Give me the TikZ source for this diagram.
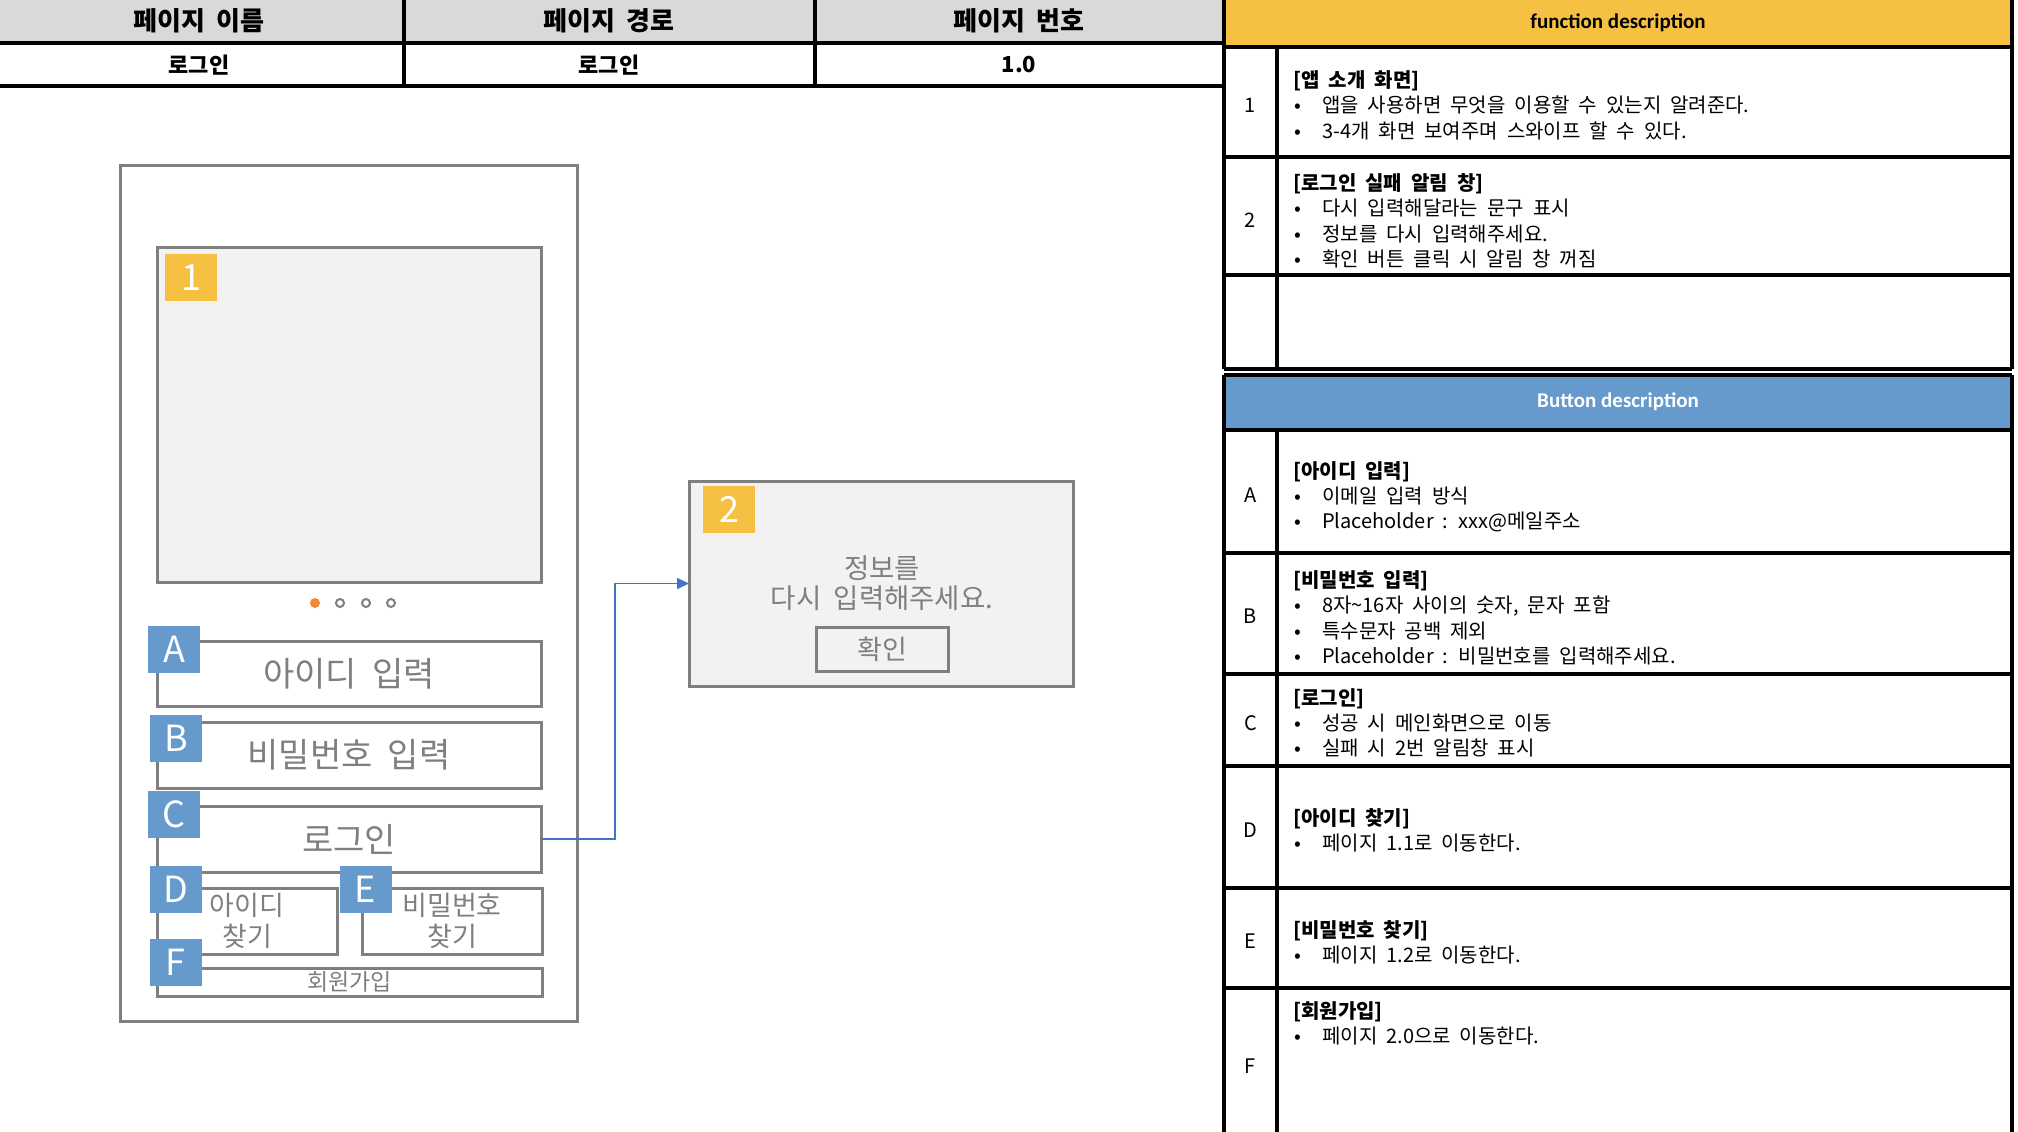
\documentclass[tikz,border=0pt]{standalone}
\usepackage{fontspec}
\setmainfont[WordSpace=2]{Noto Sans CJK KR}
\newfontfamily\hdlatinfont{Carlito}
\usetikzlibrary{arrows.meta}
\definecolor{grayline}{HTML}{7F7F7F}
\definecolor{scrfill}{HTML}{F2F2F2}
\definecolor{byellow}{HTML}{F6C142}
\definecolor{bblue}{HTML}{6699CC}
\definecolor{dotorange}{HTML}{ED8B2F}
\definecolor{connblue}{HTML}{4472C4}
\definecolor{hdrgray}{HTML}{D9D9D9}
\newcommand\myblt{\makebox[29pt][l]{\hspace{1pt}•}}
\begin{document}
\begin{tikzpicture}[x=1pt,y=-1pt,
  tline/.style={draw=black,line width=3.5pt},
  hdtxt/.style={inner sep=0,font=\bfseries\fontsize{26}{28}\selectfont},
  rowtxt/.style={inner sep=0,font=\bfseries\fontsize{22}{24}\selectfont},
  hdlatin/.style={inner sep=0,font=\hdlatinfont\bfseries\fontsize{21}{24}\selectfont},
  desc/.style={anchor=base west,inner sep=0,font=\fontsize{20}{25.6}\selectfont},
  descb/.style={anchor=base west,inner sep=0,font=\bfseries\fontsize{20}{25.6}\selectfont},
  num/.style={anchor=base,inner sep=0,font=\fontsize{20}{24}\selectfont},
  frame/.style={draw=grayline,line width=3pt,inner sep=0,outer sep=0},
  scrbox/.style={frame,fill=scrfill},
  inbox/.style={frame,fill=white,text=grayline},
  badge/.style={inner sep=0,outer sep=0,text=white,minimum width=52,minimum height=47,font=\fontsize{36}{36}\selectfont},
  ybadge/.style={badge,fill=byellow},
  bbadge/.style={badge,fill=bblue},
  gtxt/.style={inner sep=0,text=grayline},
  conn/.style={draw=connblue,line width=1.5pt,-{Triangle[length=12pt,width=11pt]}}
]
\useasboundingbox (0,0) rectangle (2018,1132);

% ---------- top table ----------
\fill[hdrgray] (0,0) rectangle (1224,43);
\draw[tline] (0,43) -- (1224,43);
\draw[tline] (0,86) -- (1224,86);
\draw[tline] (404,0) -- (404,86);
\draw[tline] (815,0) -- (815,86);
\node[hdtxt] (h1) at (199,21) {페이지 이름};
\node[hdtxt] (h2) at (609,21) {페이지 경로};
\node[hdtxt] (h3) at (1019,21) {페이지 번호};
\node[rowtxt] (v1) at (199,65) {로그인};
\node[rowtxt] (v2) at (609,65) {로그인};
\node[rowtxt] (v3) at (1019,65) {1.0};

% ---------- function description table ----------
\fill[byellow] (1224,0) rectangle (2012,47);
\foreach \yy in {47,157,275,369} \draw[tline] (1224,\yy) -- (2012,\yy);
\draw[tline] (1224,0) -- (1224,369);
\draw[tline] (2012,0) -- (2012,369);
\draw[tline] (1277,47) -- (1277,369);
\node[hdlatin] (fh) at (1618,23) {function description};

\node[num] (n1) at (1250.5,112) {1};
\node[descb] (f1t) at (1293,87) {[앱 소개 화면]};
\node[desc] (f1a) at (1293,112.5) {\myblt 앱을 사용하면 무엇을 이용할 수 있는지 알려준다.};
\node[desc] (f1b) at (1293,138) {\myblt 3-4개 화면 보여주며 스와이프 할 수 있다.};

\node[num] (n2) at (1250.5,227) {2};
\node[descb] (f2t) at (1293,190) {[로그인 실패 알림 창]};
\node[desc] (f2a) at (1293,215.5) {\myblt 다시 입력해달라는 문구 표시};
\node[desc] (f2b) at (1293,241) {\myblt 정보를 다시 입력해주세요.};
\node[desc] (f2c) at (1293,266.5) {\myblt 확인 버튼 클릭 시 알림 창 꺼짐};

% ---------- button description table ----------
\fill[bblue] (1224,375) rectangle (2012,430);
\foreach \yy in {375,430,553,674,766,888,988} \draw[tline] (1224,\yy) -- (2012,\yy);
\draw[tline] (1224,375) -- (1224,1134);
\draw[tline] (2012,375) -- (2012,1134);
\draw[tline] (1277,430) -- (1277,1134);
\node[hdlatin,text=white] (bh) at (1618,402) {Button description};

\node[num] (nA) at (1250.5,502) {A};
\node[descb] (bAt) at (1293,478) {[아이디 입력]};
\node[desc] (bAa) at (1293,503) {\myblt 이메일 입력 방식};
\node[desc] (bAb) at (1293,528) {\myblt Placeholder : xxx@메일주소};

\node[num] (nB) at (1250.5,623) {B};
\node[descb] (bBt) at (1293,587) {[비밀번호 입력]};
\node[desc] (bBa) at (1293,612.5) {\myblt 8자\textasciitilde16자 사이의 숫자, 문자 포함};
\node[desc] (bBb) at (1293,638) {\myblt 특수문자 공백 제외};
\node[desc] (bBc) at (1293,663.5) {\myblt Placeholder : 비밀번호를 입력해주세요.};

\node[num] (nC) at (1250.5,730) {C};
\node[descb] (bCt) at (1293,705) {[로그인]};
\node[desc] (bCa) at (1293,730) {\myblt 성공 시 메인화면으로 이동};
\node[desc] (bCb) at (1293,755) {\myblt 실패 시 2번 알림창 표시};

\node[num] (nD) at (1250.5,837) {D};
\node[descb] (bDt) at (1293,825) {[아이디 찾기]};
\node[desc] (bDa) at (1293,850) {\myblt 페이지 1.1로 이동한다.};

\node[num] (nE) at (1250.5,948) {E};
\node[descb] (bEt) at (1293,937) {[비밀번호 찾기]};
\node[desc] (bEa) at (1293,962) {\myblt 페이지 1.2로 이동한다.};

\node[num] (nF) at (1250.5,1073) {F};
\node[descb] (bFt) at (1293,1018) {[회원가입]};
\node[desc] (bFa) at (1293,1043) {\myblt 페이지 2.0으로 이동한다.};

% ---------- phone mockup ----------
\node[frame,minimum width=457,minimum height=856] (phone) at (348.5,593) {};
\node[scrbox,minimum width=384,minimum height=335] (screen) at (349,414.5) {};
\node[ybadge] (b1) at (191,277.5) {1};

\node[circle,fill=dotorange,inner sep=0,minimum size=10] (d1) at (315,603) {};
\node[circle,draw=grayline,line width=2pt,inner sep=0,minimum size=8] (d2) at (340,603) {};
\node[circle,draw=grayline,line width=2pt,inner sep=0,minimum size=8] (d3) at (366,603) {};
\node[circle,draw=grayline,line width=2pt,inner sep=0,minimum size=8] (d4) at (391,603) {};

\node[inbox,minimum width=384,minimum height=65,font=\fontsize{34}{34}\selectfont] (A) at (349,673.5) {아이디 입력};
\node[inbox,minimum width=384,minimum height=66,font=\fontsize{34}{34}\selectfont] (B) at (349,755) {비밀번호 입력};
\node[inbox,minimum width=384,minimum height=66,font=\fontsize{34}{34}\selectfont] (C) at (349,839) {로그인};
\node[inbox,minimum width=180,minimum height=66,align=center,font=\fontsize{27}{31}\selectfont] (D) at (247,921) {아이디\\찾기};
\node[inbox,minimum width=180,minimum height=66,align=center,font=\fontsize{27}{31}\selectfont] (E) at (452,921) {비밀번호\\찾기};
\node[inbox,minimum width=385,minimum height=28,font=\fontsize{23}{23}\selectfont] (F) at (349.5,982) {회원가입};

\node[bbadge] (bA) at (174,649.5) {A};
\node[bbadge] (bB) at (176,738.5) {B};
\node[bbadge] (bC) at (174,814.5) {C};
\node[bbadge] (bD) at (175.5,889) {D};
\node[bbadge] (bE) at (365.5,889) {E};
\node[bbadge] (bF) at (175.5,962.5) {F};

% ---------- popup ----------
\node[scrbox,minimum width=384,minimum height=205] (pop) at (881,583.5) {};
\node[ybadge] (b2) at (729,509.5) {2};
\node[gtxt,font=\fontsize{27.5}{30}\selectfont] (pt1) at (882,568) {정보를};
\node[gtxt,font=\fontsize{27.5}{30}\selectfont] (pt2) at (882,598) {다시 입력해주세요.};
\node[frame,fill=scrfill,text=grayline,minimum width=132,minimum height=44,font=\fontsize{27}{27}\selectfont] (ok) at (882,649) {확인};

% ---------- connector ----------
\draw[conn] (C.east) -- ++(74,0) |- (pop.west);
\end{tikzpicture}
\end{document}
